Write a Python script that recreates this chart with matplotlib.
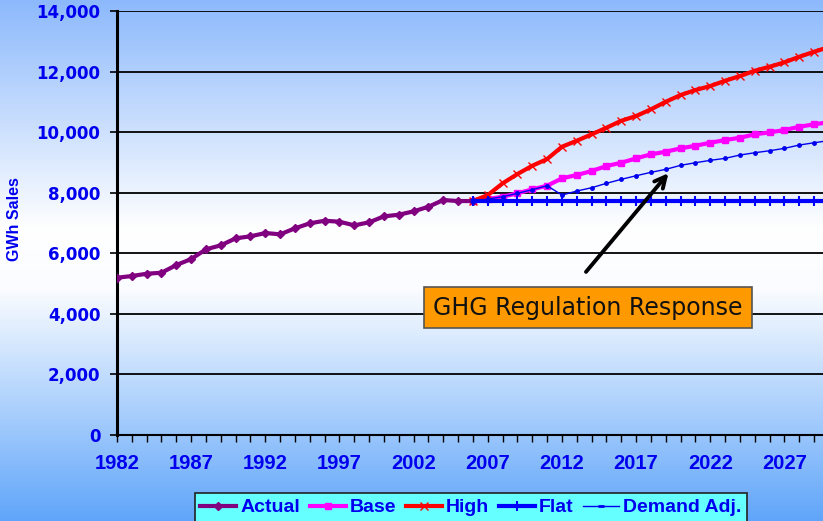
import numpy as np
import matplotlib
matplotlib.use('Agg')
import matplotlib.pyplot as plt
from matplotlib.lines import Line2D

# --- Data --- #
years_actual = list(range(1982, 2007))
actual = [5193, 5249, 5325, 5358, 5612, 5810, 6131, 6263, 6494, 6560, 6669, 6626, 6824,
          6989, 7075, 7042, 6923, 7022, 7220, 7273, 7385, 7537, 7758, 7725, 7725]

years_fc = list(range(2006, 2031))
base = [7725, 7790, 7867, 7980, 8112, 8231, 8475, 8584, 8716, 8881, 8990, 9135, 9267,
        9353, 9465, 9551, 9650, 9739, 9815, 9927, 9993, 10069, 10178, 10258, 10330]
high = [7725, 7923, 8310, 8617, 8891, 9112, 9518, 9716, 9927, 10145, 10376, 10532, 10753,
        11004, 11225, 11390, 11522, 11697, 11852, 12027, 12159, 12305, 12489, 12654, 12810]
flat = [7740] * len(years_fc)
demand_adj = [7725, 7790, 7867, 7980, 8100, 8231, 7923, 8055, 8165, 8310, 8442, 8560, 8673,
              8772, 8904, 8990, 9069, 9135, 9244, 9320, 9386, 9465, 9574, 9650, 9720]

xtick_years = list(range(1982, 2030))
label_years = list(range(1982, 2030, 5))

BLUE_TXT = '#0000ee'

# --- Figure with gradient background --- #
fig = plt.figure(figsize=(8.23, 5.21), dpi=100)
bg = fig.add_axes([0, 0, 1, 1], zorder=-10)
stops_y = [0, 230, 290, 521]
stops_c = np.array([[140, 185, 252], [255, 255, 255], [250, 252, 255], [95, 165, 250]]) / 255
rows = np.arange(521)
grad = np.stack([np.interp(rows, stops_y, stops_c[:, i]) for i in range(3)], axis=1)
bg.imshow(grad[:, None, :], aspect='auto', extent=[0, 1, 0, 1], interpolation='bilinear')
bg.axis('off')

ax = fig.add_axes([117 / 823, 1 - 435 / 521, 1 - 117 / 823, (435 - 11) / 521])
ax.patch.set_alpha(0)

ax.plot(years_actual, actual, color='#800080', lw=3, marker='D', ms=4.5, zorder=5)
ax.plot(years_fc, base, color='#ff00ff', lw=3, marker='s', ms=5, zorder=4)
ax.plot(years_fc, high, color='#ff0000', lw=3, marker='x', ms=5.5, mew=1, zorder=4)
ax.plot(years_fc, flat, color='#0000ff', lw=3, marker='|', ms=7, mew=1.5, zorder=6)
ax.plot(years_fc, demand_adj, color='#0000ee', lw=1, marker='o', ms=2.5, zorder=6)

ax.set_xlim(1982, 2029.6)
ax.set_ylim(0, 14000)
ax.set_yticks(range(0, 14001, 2000))
ax.set_yticklabels([f'{v:,}' for v in range(0, 14001, 2000)],
                   fontsize=12, fontweight='bold', color=BLUE_TXT, family='DejaVu Sans')
ax.set_xticks(xtick_years)
ax.set_xticklabels([str(y) if y in label_years else '' for y in xtick_years],
                   fontsize=14.5, fontweight='bold', color=BLUE_TXT, family='Liberation Sans')
ax.tick_params(axis='y', length=5, width=1.2, pad=7, colors='black', labelcolor=BLUE_TXT)
ax.tick_params(axis='x', length=5, width=1, pad=9, colors='black', labelcolor=BLUE_TXT)
ax.grid(axis='y', color='black', lw=1.3)
ax.set_axisbelow(True)
for s in ['top', 'right']:
    ax.spines[s].set_visible(False)
ax.spines['left'].set_linewidth(2.2)
ax.spines['bottom'].set_linewidth(1.5)
ax.set_ylabel('GWh Sales', fontsize=11.5, fontweight='bold', color=BLUE_TXT,
              family='Liberation Sans', labelpad=12)
ax.yaxis.set_label_coords(-0.135, 0.51)

# --- Annotation --- #
ax.annotate('', xy=(2019.3, 8716), xytext=(2013.5, 5315),
            arrowprops=dict(arrowstyle='->,head_length=0.8,head_width=0.4', color='black', lw=2.8),
            zorder=7)
ax.text(2013.75, 4209, 'GHG Regulation Response', fontsize=17, family='DejaVu Sans',
        ha='center', va='center', color='#111111', zorder=8,
        bbox=dict(boxstyle='square,pad=0.38', fc='#ff9900', ec='#555555', lw=1.2))

# --- Legend --- #
handles = [
    Line2D([], [], color='#800080', lw=3, marker='D', ms=4.5),
    Line2D([], [], color='#ff00ff', lw=3, marker='s', ms=5),
    Line2D([], [], color='#ff0000', lw=3, marker='x', ms=5.5, mew=1),
    Line2D([], [], color='#0000ff', lw=3, marker='|', ms=7, mew=1.5),
    Line2D([], [], color='#0000ee', lw=1, marker='_', ms=4, mew=2),
]
labels = ['Actual', 'Base', 'High', 'Flat', 'Demand Adj.']
leg = fig.legend(handles, labels, loc='upper center', bbox_to_anchor=(0.572, 1 - 493 / 521),
                 ncol=5, frameon=True, fancybox=False, handlelength=1.85, handletextpad=0.2,
                 columnspacing=0.5, borderpad=0.3, borderaxespad=0,
                 prop=dict(family='Liberation Sans', weight='bold', size=14))
leg.get_frame().set_facecolor('#66ffff')
leg.get_frame().set_edgecolor('#222222')
leg.get_frame().set_linewidth(1.2)
leg.get_frame().set_alpha(1)
for t in leg.get_texts():
    t.set_color(BLUE_TXT)

fig.savefig('out.png', dpi=100)
